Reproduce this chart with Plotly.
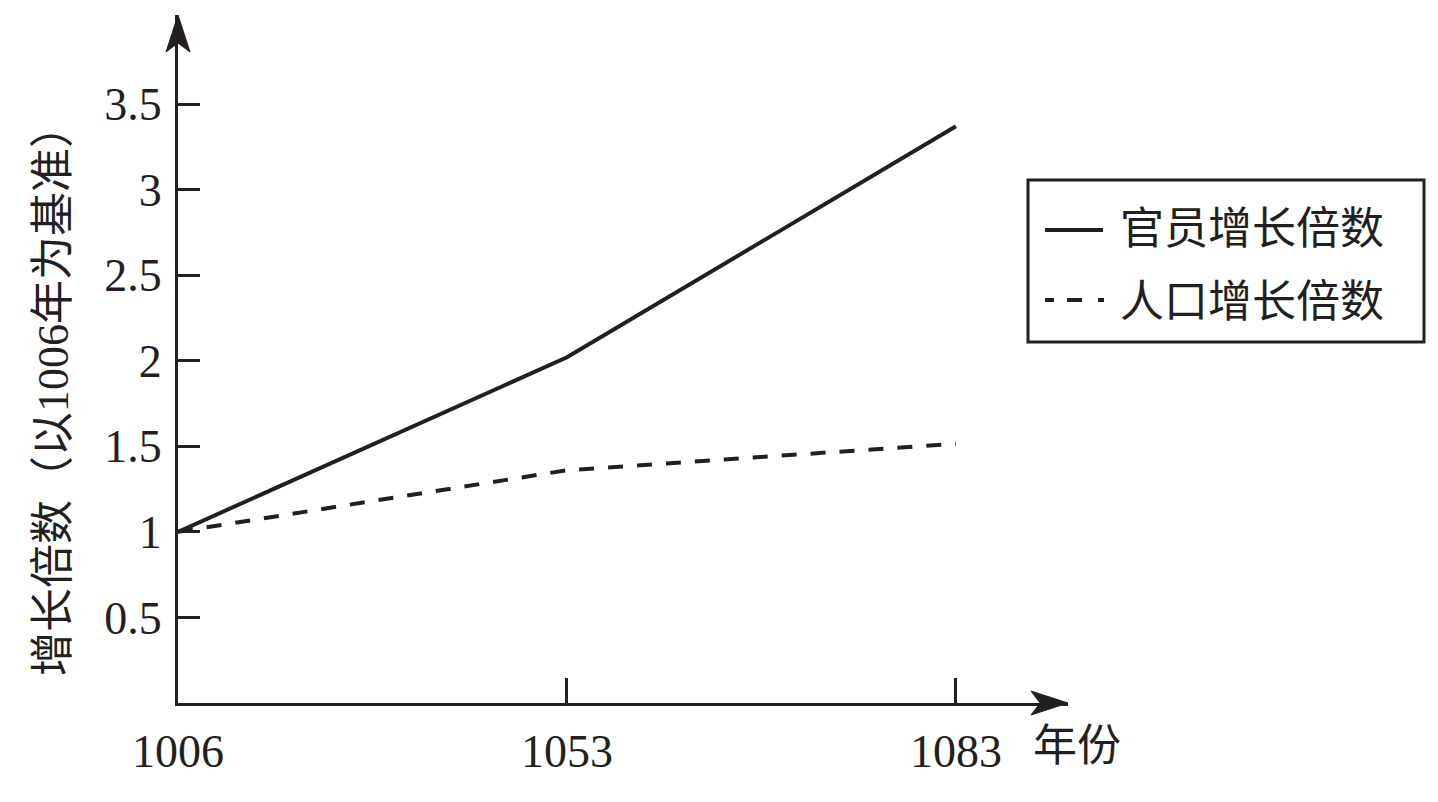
import plotly.graph_objects as go

years = ["1006", "1053", "1083"]
officials = [1.0, 2.02, 3.37]
population = [1.0, 1.36, 1.515]
y_ticks = [0.5, 1, 1.5, 2, 2.5, 3, 3.5]
y_tick_text = ["0.5", "1", "1.5", "2", "2.5", "3", "3.5"]
name_officials = "官员增长倍数"
name_population = "人口增长倍数"
y_title = "增长倍数（以1006年为基准）"
x_title = "年份"

FONT = "Liberation Serif, Noto Sans CJK SC, serif"
INK = "#231f20"

# plot area in page pixels (page has an 8px body margin)
PL, PW, PB, PH = 178, 890, 703, 688


def px(X):
    return (X - PL) / PW


def py(Y):
    return (PB - Y) / PH


fig = go.Figure()
fig.add_trace(go.Scatter(x=years, y=officials, mode="lines", name=name_officials,
                         showlegend=False, line=dict(color=INK, width=4)))
fig.add_trace(go.Scatter(x=years, y=population, mode="lines", name=name_population,
                         showlegend=False, line=dict(color=INK, width=4, dash="15px,14px")))

shapes = [
    # axis arrowheads
    dict(type="path", xref="paper", yref="paper", xsizemode="pixel", ysizemode="pixel",
         xanchor=0, yanchor=1, path="M0,0 L-12,-37 L0,-28 L12,-37 Z",
         fillcolor=INK, line=dict(color=INK, width=1)),
    dict(type="path", xref="paper", yref="paper", xsizemode="pixel", ysizemode="pixel",
         xanchor=1, yanchor=0, path="M0,0 L-37,12 L-28,0 L-37,-12 Z",
         fillcolor=INK, line=dict(color=INK, width=1)),
    # legend box
    dict(type="rect", xref="paper", yref="paper", x0=px(1028), x1=px(1424),
         y0=py(342), y1=py(180), line=dict(color=INK, width=3), fillcolor="white"),
    dict(type="line", xref="paper", yref="paper", x0=px(1045), x1=px(1103),
         y0=py(230), y1=py(230), line=dict(color=INK, width=4)),
    dict(type="line", xref="paper", yref="paper", x0=px(1045), x1=px(1104),
         y0=py(300), y1=py(300), line=dict(color=INK, width=4, dash="9px,13px,15px,16px,6px")),
]

annotations = [
    dict(text=y_title, xref="paper", yref="paper", x=px(53), y=py(390),
         xanchor="center", yanchor="middle",
         textangle=-90, showarrow=False, font=dict(family=FONT, size=44, color=INK)),
    dict(text=x_title, xref="paper", yref="paper", x=px(1077), y=py(746),
         xanchor="center", yanchor="middle",
         showarrow=False, font=dict(family=FONT, size=44, color=INK)),
    dict(text=name_officials, xref="paper", yref="paper", x=px(1118), y=py(229),
         xanchor="left", yanchor="middle",
         showarrow=False, font=dict(family=FONT, size=44, color=INK)),
    dict(text=name_population, xref="paper", yref="paper", x=px(1118), y=py(302),
         xanchor="left", yanchor="middle",
         showarrow=False, font=dict(family=FONT, size=44, color=INK)),
]

fig.update_layout(
    width=1430, height=794,
    margin=dict(l=170, r=370, t=7, b=99),
    paper_bgcolor="white", plot_bgcolor="white",
    font=dict(family=FONT, size=44, color=INK),
    showlegend=False,
    xaxis=dict(type="category", range=[0, 2.288], showline=True, linewidth=3,
               linecolor=INK, showgrid=False, zeroline=False,
               ticks="inside", ticklen=25, tickwidth=3, tickcolor=INK,
               tickfont=dict(family=FONT, size=46, color=INK),
               ticklabelstandoff=6),
    yaxis=dict(range=[0, 4.02], showline=True, linewidth=3, linecolor=INK,
               showgrid=False, zeroline=False,
               tickvals=y_ticks, ticktext=y_tick_text,
               ticks="inside", ticklen=22, tickwidth=3, tickcolor=INK,
               tickfont=dict(family=FONT, size=46, color=INK),
               ticklabelstandoff=4),
    shapes=shapes,
    annotations=annotations,
)

fig.write_html("out.html")
